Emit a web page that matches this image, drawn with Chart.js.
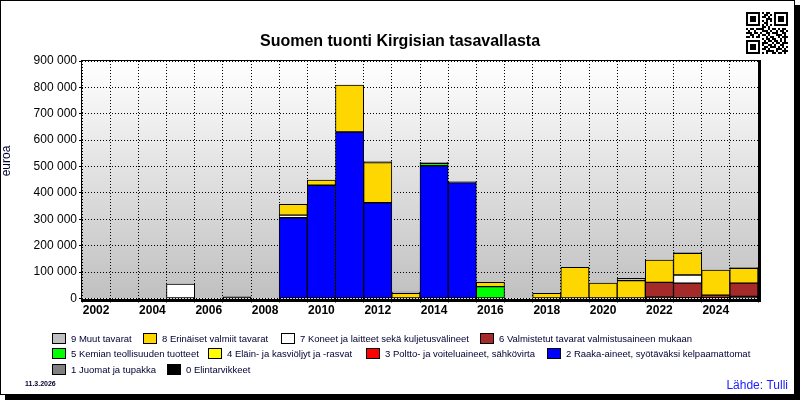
<!DOCTYPE html>
<html>
<head>
<meta charset="utf-8">
<script src="https://cdn.jsdelivr.net/npm/chart.js@4"></script>
<style>
html,body{margin:0;padding:0;background:#fff;}
#c{display:block;}
</style>
</head>
<body>
<canvas id="c" width="800" height="400"></canvas>
<script>
const years = ['2002','2003','2004','2005','2006','2007','2008','2009','2010','2011','2012','2013','2014','2015','2016','2017','2018','2019','2020','2021','2022','2023','2024','2025'];

const seriesNames = [
  '0 Elintarvikkeet',
  '1 Juomat ja tupakka',
  '2 Raaka-aineet, syötäväksi kelpaamattomat',
  '3 Poltto- ja voiteluaineet, sähkövirta',
  '4 Eläin- ja kasviöljyt ja -rasvat',
  '5 Kemian teollisuuden tuotteet',
  '6 Valmistetut tavarat valmistusaineen mukaan',
  '7 Koneet ja laitteet sekä kuljetusvälineet',
  '8 Erinäiset valmiit tavarat',
  '9 Muut tavarat'
];
const seriesColors = ['#000000','#808080','#0000FF','#FF0000','#FFFF00','#00FF00','#A52A2A','#FFFFFF','#FFD700','#C0C0C0'];

//                 02 03 04 05     06 07    08 09      10      11      12      13     14      15      16     17 18     19      20     21     22     23     24     25
const s0 = [0,0,0,0,0,6000,0,0,0,0,0,0,0,0,0,0,0,0,0,0,5000,3000,3000,8000];
const s1 = [0,0,0,0,0,0,0,0,0,0,0,0,0,0,0,0,0,0,0,0,0,0,0,0];
const s2 = [0,0,0,0,0,0,0,306000,429000,631000,363000,0,503000,439000,0,0,0,0,0,0,0,0,0,0];
const s3 = [0,0,0,0,0,0,0,0,0,0,0,0,0,0,0,0,0,0,0,0,0,0,0,0];
const s4 = [0,0,0,0,0,0,0,0,0,0,0,0,0,0,0,0,0,0,0,0,0,0,0,0];
const s5 = [0,0,0,0,0,0,0,0,0,0,0,0,9000,0,45000,0,0,0,0,0,0,0,0,0];
const s6 = [0,0,0,0,0,0,0,0,0,0,0,0,0,0,0,0,0,0,0,0,56000,55000,10000,50000];
const s7 = [0,0,0,55000,0,0,0,10000,0,0,0,0,0,0,0,0,0,0,0,0,0,31000,0,0];
const s8 = [0,0,0,0,0,0,0,41000,20000,178000,152000,20000,0,0,16000,0,20000,118000,58000,68000,85000,82000,95000,56000];
const s9 = [0,0,0,0,0,0,0,0,0,0,4000,4000,4000,4000,0,0,0,0,0,8000,0,4000,0,3000];

const seriesValues = [s0,s1,s2,s3,s4,s5,s6,s7,s8,s9];
const yMax = 900000;
const yStep = 100000;

const titleText = 'Suomen tuonti Kirgisian tasavallasta';
const yAxisText = 'euroa';
const dateText = '11.3.2026';
const sourceText = 'Lähde: Tulli';

// legend layout: order as shown (rows)
const legendRows = [[9,8,7,6],[5,4,3,2],[1,0]];

const FONT = '"Liberation Sans", Arial, sans-serif';

function fmt(n){ return String(n).replace(/\B(?=(\d{3})+(?!\d))/g,' '); }

const datasets = seriesValues.map((arr,i)=>({
  label: seriesNames[i],
  data: arr.map(v => v === 0 ? null : v),
  backgroundColor: seriesColors[i],
  borderColor: '#000',
  borderWidth: 1,
  borderSkipped: false,
  categoryPercentage: 1.0,
  barPercentage: 1.0
}));

const qr = [
'111111101011001111111',
'100000100110101000001',
'101110101101001011101',
'101110100011101011101',
'101110101010101011101',
'100000100110001000001',
'111111101010101111111',
'000000001101000000000',
'101101111001011010110',
'010010001110100101101',
'111011010011011100110',
'001100101101000111010',
'110101100010110010111',
'000000001011011001010',
'111111100101101101010',
'100000101110010110111',
'101110101001101001100',
'101110100110111010101',
'101110101101000111010',
'100000100011110100111',
'111111101010011011010'
];

const decor = {
  id: 'decor',
  beforeDraw(chart){
    const ctx = chart.ctx, a = chart.chartArea;
    ctx.save();
    ctx.fillStyle = '#fff';
    ctx.fillRect(0,0,800,400);
    // frame shadow
    ctx.fillStyle = '#000';
    ctx.fillRect(795,5,5,395);
    ctx.fillRect(5,395,795,5);
    ctx.strokeStyle = '#000';
    ctx.lineWidth = 1;
    ctx.strokeRect(0.5,0.5,794,394);
    // plot gradient
    const g = ctx.createLinearGradient(0,a.top,0,a.bottom);
    g.addColorStop(0,'#ffffff');
    g.addColorStop(1,'#c0c0c0');
    ctx.fillStyle = g;
    ctx.fillRect(a.left,a.top,a.right-a.left,a.bottom-a.top);
    ctx.restore();
  },
  afterDraw(chart){
    const ctx = chart.ctx, a = chart.chartArea;
    ctx.save();
    // plot borders
    ctx.fillStyle = '#000';
    ctx.fillRect(Math.round(a.left)-1, Math.round(a.top), 1, Math.round(a.bottom-a.top));
    ctx.fillRect(Math.round(a.left)-1, Math.round(a.top)-1, Math.round(a.right-a.left)+1, 1);
    ctx.fillRect(Math.round(a.right), Math.round(a.top)-1, 3, Math.round(a.bottom-a.top)+4);
    ctx.fillRect(Math.round(a.left)-1, Math.round(a.bottom), Math.round(a.right-a.left)+4, 3);
    // title
    ctx.fillStyle = '#000';
    ctx.font = 'bold 16px ' + FONT;
    ctx.textAlign = 'center';
    ctx.textBaseline = 'middle';
    ctx.fillText(titleText, 400, 42);
    // y axis title
    ctx.save();
    ctx.translate(7, 161);
    ctx.rotate(-Math.PI/2);
    ctx.font = '12px ' + FONT;
    ctx.fillStyle = '#000033';
    ctx.fillText(yAxisText, 0, 0);
    ctx.restore();
    // legend
    const rowY = [339, 354, 370];
    const rowX = [[52,143,281,480],[52,208,366,547],[52,167]];
    ctx.font = '9.5px ' + FONT;
    ctx.textAlign = 'left';
    ctx.textBaseline = 'middle';
    legendRows.forEach((row,r)=>{
      row.forEach((si,k)=>{
        const x = rowX[r][k], y = rowY[r];
        ctx.fillStyle = seriesColors[si];
        ctx.fillRect(x, y-6, 14, 11);
        ctx.strokeStyle = '#000';
        ctx.lineWidth = 1;
        ctx.strokeRect(x+0.5, y-5.5, 13, 10);
        ctx.fillStyle = '#000033';
        ctx.fillText(seriesNames[si], x+19, y);
      });
    });
    // date
    ctx.font = 'bold 7px ' + FONT;
    ctx.fillStyle = '#000033';
    ctx.fillText(dateText, 25, 384);
    // source
    ctx.font = '12px ' + FONT;
    ctx.fillStyle = '#2020ff';
    ctx.textAlign = 'right';
    ctx.fillText(sourceText, 788, 386);
    // QR-like mark
    ctx.fillStyle = '#000';
    const m = 2, qx = 746, qy = 12;
    qr.forEach((row,ri)=>{
      for(let ci=0; ci<row.length; ci++){
        if(row[ci]==='1') ctx.fillRect(qx+ci*m, qy+ri*m, m, m);
      }
    });
    ctx.restore();
  }
};

new Chart(document.getElementById('c'), {
  type: 'bar',
  data: { labels: years, datasets },
  options: {
    responsive: false,
    animation: false,
    events: [],
    layout: { padding: { top: 61, right: 42, left: 0, bottom: 0 } },
    plugins: { legend: { display: false }, title: { display: false }, tooltip: { enabled: false } },
    scales: {
      x: {
        stacked: true,
        offset: true,
        grid: { offset: true, color: '#000', lineWidth: 1, drawTicks: true, tickLength: 4, tickColor: '#000', tickBorderDash: [], tickWidth: 1 },
        border: { display: false, dash: [1,2] },
        ticks: {
          autoSkip: false, maxRotation: 0, minRotation: 0, padding: 1,
          color: '#000', font: { family: FONT, size: 12, weight: 'bold' },
          callback: function(v, i){ return i % 2 === 0 ? years[i] : ''; }
        },
        afterFit: s => { s.height = 101.5; }
      },
      y: {
        stacked: true,
        min: 0, max: yMax,
        grid: { color: '#000', lineWidth: 1, drawTicks: true, tickLength: 3, tickColor: '#000', tickBorderDash: [] },
        border: { display: false, dash: [1,2] },
        ticks: {
          stepSize: yStep, padding: 2, color: '#000',
          font: { family: FONT, size: 12 },
          callback: v => fmt(v)
        },
        afterFit: s => { s.width = 82; }
      }
    }
  },
  plugins: [decor]
});
</script>
</body>
</html>
